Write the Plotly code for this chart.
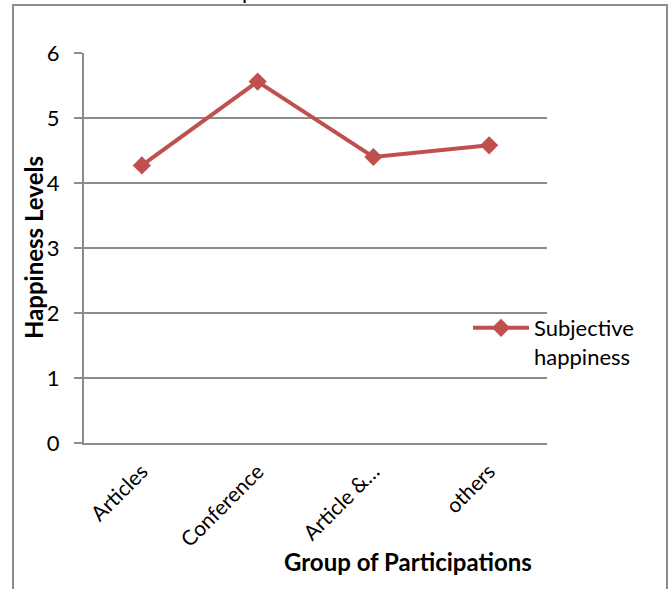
import plotly.graph_objects as go

# Mean subjective happiness per participation group
groups = ["Articles", "Conference", "Article &…", "others"]
happiness = [4.27, 5.56, 4.40, 4.58]
series_name = "Subjective<br>happiness"

y_ticks = [0, 1, 2, 3, 4, 5, 6]

FONT = "Lato, 'Open Sans', sans-serif"
GRID = "#8c8c8c"
RED = "#C0504D"

W, H = 670, 589
L, R, T, B = 84, 123, 53, 146
PW, PH = W - L - R, H - T - B


def px_x(px):
    return (px - L) / PW


def px_y(py):
    return (H - B - py) / PH


fig = go.Figure()
fig.add_trace(go.Scatter(
    x=groups,
    y=happiness,
    mode="lines+markers",
    name=series_name,
    line=dict(color=RED, width=4),
    marker=dict(symbol="diamond", size=14, color=RED),
))

fig.update_layout(
    width=W,
    height=H,
    margin=dict(l=L, r=R, t=T, b=B),
    paper_bgcolor="white",
    plot_bgcolor="white",
    font=dict(family=FONT, size=22, color="black"),
    showlegend=True,
    legend=dict(
        x=px_x(468), y=px_y(307), xanchor="left", yanchor="top",
        bgcolor="rgba(0,0,0,0)", borderwidth=0,
        font=dict(family=FONT, size=22, color="black"),
        valign="top",
        itemwidth=56,
    ),
    xaxis=dict(
        type="category",
        range=[-0.5, 3.5],
        showgrid=False,
        showline=True, linecolor=GRID, linewidth=2,
        ticks="",
        tickangle=-45,
        ticklabelstandoff=6,
        tickfont=dict(family=FONT, size=21),
        zeroline=False,
    ),
    yaxis=dict(
        range=[0, 6],
        tickvals=y_ticks,
        showgrid=True, gridcolor=GRID, gridwidth=2,
        showline=True, linecolor=GRID, linewidth=2,
        ticks="outside", ticklen=8, tickcolor=GRID, tickwidth=2,
        ticklabelstandoff=10,
        tickfont=dict(family=FONT, size=22),
        zeroline=False,
    ),
    shapes=[
        # chart frame
        dict(type="rect", xref="paper", yref="paper",
             x0=px_x(13), x1=px_x(667), y0=px_y(600), y1=px_y(5),
             line=dict(color=GRID, width=2), fillcolor="rgba(0,0,0,0)",
             layer="below"),
    ],
    annotations=[
        dict(text="<b>Group of Participations</b>", xref="paper", yref="paper",
             x=px_x(408), y=px_y(561), xanchor="center", yanchor="middle",
             showarrow=False, font=dict(family=FONT, size=24)),
        dict(text="<b>Happiness Levels</b>", xref="paper", yref="paper",
             x=px_x(33), y=px_y(248), xanchor="center", yanchor="middle",
             textangle=-90, showarrow=False, font=dict(family=FONT, size=24)),
        # chart title, mostly above the visible frame
        dict(text="p", xref="paper", yref="paper",
             x=px_x(240), y=px_y(6), xanchor="left", yanchor="bottom",
             showarrow=False, font=dict(family=FONT, size=22)),
    ],
)

fig.write_html("out.html")
